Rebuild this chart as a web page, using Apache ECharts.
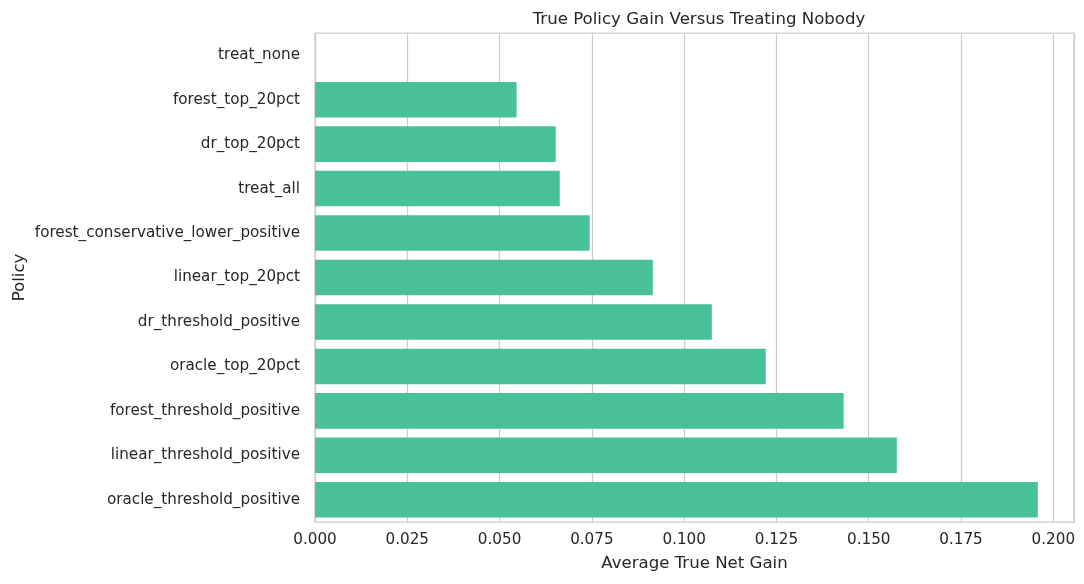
<!DOCTYPE html>
<html>
<head>
<meta charset="utf-8">
<script src="https://cdn.jsdelivr.net/npm/echarts@6/dist/echarts.min.js"></script>
<style>
  html, body { margin: 0; padding: 0; background: #fff; }
  #chart { width: 1084px; height: 584px; }
</style>
</head>
<body>
<div id="chart"></div>
<script>
var myChart = echarts.init(document.getElementById('chart'));

// policies, top to bottom
var policies = [
    'treat_none',
    'forest_top_20pct',
    'dr_top_20pct',
    'treat_all',
    'forest_conservative_lower_positive',
    'linear_top_20pct',
    'dr_threshold_positive',
    'oracle_top_20pct',
    'forest_threshold_positive',
    'linear_threshold_positive',
    'oracle_threshold_positive'
];
var gains = [0.0, 0.0546, 0.0652, 0.0663, 0.0744, 0.0915, 0.1075, 0.1221, 0.1432, 0.1576, 0.1958];

var textColor = '#262626';
var font = 'DejaVu Sans';

option = {
    backgroundColor: '#ffffff',
    animation: false,
    title: {
        text: 'True Policy Gain Versus Treating Nobody',
        left: 694,
        textAlign: 'center',
        top: 6,
        textStyle: { fontFamily: font, fontSize: 16.6, fontWeight: 'normal', color: textColor }
    },
    grid: {
        left: 315,
        right: 10,
        top: 33,
        bottom: 62,
        show: true,
        borderColor: '#cccccc',
        borderWidth: 1.25,
        backgroundColor: '#ffffff'
    },
    xAxis: {
        type: 'value',
        min: 0,
        max: 0.2056,
        interval: 0.025,
        name: 'Average True Net Gain',
        nameLocation: 'middle',
        nameGap: 33,
        nameTextStyle: { fontFamily: font, fontSize: 16.6, color: textColor },
        axisLine: { show: false },
        axisTick: { show: false },
        axisLabel: {
            fontFamily: font, fontSize: 15.2, color: textColor, margin: 11,
            showMaxLabel: false,
            formatter: function (v) { return v.toFixed(3); }
        },
        splitLine: { show: true, lineStyle: { color: '#cccccc', width: 1.25 } }
    },
    yAxis: {
        type: 'category',
        data: policies,
        inverse: true,
        name: 'Policy',
        nameLocation: 'middle',
        nameGap: 287,
        nameMoveOverlap: false,
        nameTextStyle: { fontFamily: font, fontSize: 16.6, color: textColor },
        axisLine: { show: false },
        axisTick: { show: false },
        axisLabel: { fontFamily: font, fontSize: 15.2, color: textColor, margin: 15 },
        splitLine: { show: false }
    },
    series: [{
        type: 'bar',
        data: gains,
        barCategoryGap: '20%',
        itemStyle: {
            color: '#4ac096'
        }
    }]
};

myChart.setOption(option);
</script>
</body>
</html>
